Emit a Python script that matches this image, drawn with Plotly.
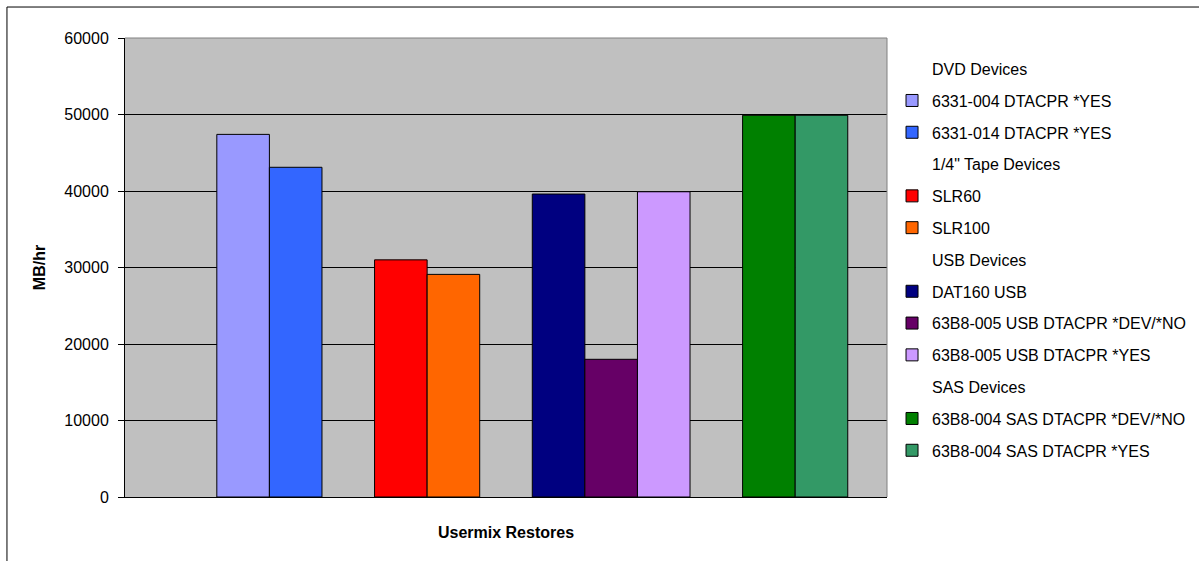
import plotly.graph_objects as go

category = ["Usermix Restores"]
series_names = [
    "DVD Devices",
    "6331-004 DTACPR *YES",
    "6331-014 DTACPR *YES",
    "1/4\" Tape Devices",
    "SLR60",
    "SLR100",
    "USB Devices",
    "DAT160 USB",
    "63B8-005 USB DTACPR *DEV/*NO",
    "63B8-005 USB DTACPR *YES",
    "SAS Devices",
    "63B8-004 SAS DTACPR *DEV/*NO",
    "63B8-004 SAS DTACPR *YES",
]
series_values = [0, 47400, 43100, 0, 31000, 29100, 0, 39600, 18000, 39900, 0, 49900, 49900]
is_header = [True, False, False, True, False, False, True, False, False, False, True, False, False]
series_colors = [
    None, "#9999FF", "#3366FF", None, "#FF0000", "#FF6600", None,
    "#000080", "#660066", "#CC99FF", None, "#008000", "#339966",
]

fig = go.Figure()
for i, (name, val, hdr, col) in enumerate(zip(series_names, series_values, is_header, series_colors)):
    if hdr:
        fig.add_trace(go.Bar(
            x=category, y=[val], name=name, legendgroup=f"g{i}",
            marker=dict(color="rgba(0,0,0,0)", line=dict(width=0)),
            hoverinfo="skip",
        ))
    else:
        fig.add_trace(go.Bar(
            x=category, y=[val], name=name, legendgroup=f"g{i}",
            marker=dict(color=col, line=dict(color="black", width=1)),
        ))

fig.update_layout(
    width=1199, height=561,
    barmode="group", bargap=0.103, bargroupgap=0,
    paper_bgcolor="white", plot_bgcolor="#C0C0C0",
    margin=dict(l=125, r=312, t=38, b=64, autoexpand=False),
    font=dict(family="Liberation Sans, Arial, sans-serif", size=16, color="black"),
    showlegend=True,
    legend=dict(
        x=1.0066, xanchor="left", y=0.97, yanchor="top",
        traceorder="grouped", tracegroupgap=8,
        font=dict(size=16), bgcolor="rgba(0,0,0,0)",
        itemclick=False, itemdoubleclick=False,
    ),
    xaxis=dict(
        showticklabels=False, ticks="", showline=True, linecolor="black", linewidth=1,
        title=dict(text="<b>Usermix Restores</b>", font=dict(size=16), standoff=29),
        range=[-0.5, 0.5],
    ),
    yaxis=dict(
        range=[0, 60000], dtick=10000, tickformat="d",
        showgrid=True, gridcolor="black", gridwidth=1,
        showline=True, linecolor="black", linewidth=1,
        ticks="outside", ticklen=6, tickcolor="black",
        ticklabelstandoff=6,
        zeroline=False,
        title=dict(text="<b>MB/hr</b>", font=dict(size=16), standoff=14),
    ),
)

# gray top/right plot-area edges
fig.add_shape(type="line", xref="paper", yref="paper", x0=0, x1=1, y0=1, y1=1,
              line=dict(color="#808080", width=1))
fig.add_shape(type="line", xref="paper", yref="paper", x0=1, x1=1, y0=0, y1=1,
              line=dict(color="#808080", width=1))
# chart outer border (top and left visible)
fig.add_shape(type="line", xref="paper", yref="paper", x0=-0.1549, x1=1.42, y0=1.0675, y1=1.0675,
              line=dict(color="black", width=1))
fig.add_shape(type="line", xref="paper", yref="paper", x0=-0.1549, x1=-0.1549, y0=-0.2, y1=1.0675,
              line=dict(color="black", width=1))

fig.write_html("out.html", config={"displayModeBar": False},
               post_script="document.body.style.margin='0';")
